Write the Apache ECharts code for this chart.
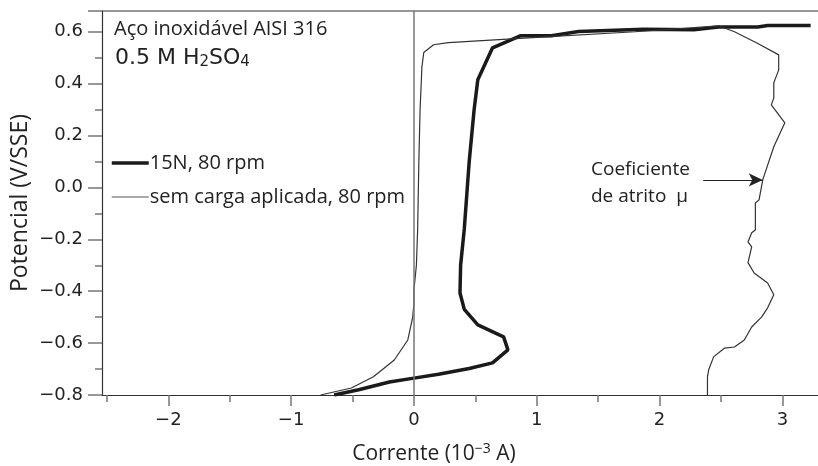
<!DOCTYPE html>
<html>
<head>
<meta charset="utf-8">
<script src="https://cdn.jsdelivr.net/npm/echarts@6/dist/echarts.min.js"></script>
<style>
  html, body { margin: 0; padding: 0; background: #fff; }
  #chart { width: 818px; height: 466px; }
</style>
</head>
<body>
<div id="chart"></div>
<script>
// curva com carga 15N, 80 rpm  [corrente (10^-3 A), potencial (V/SSE)]
var carga15N = [
  [-0.65, -0.8], [-0.45, -0.78], [-0.2, -0.75], [0, -0.735], [0.2, -0.72], [0.45, -0.698],
  [0.64, -0.676], [0.765, -0.626], [0.73, -0.576], [0.52, -0.53], [0.41, -0.47], [0.375, -0.407],
  [0.38, -0.3], [0.41, -0.16], [0.45, 0.1], [0.49, 0.3], [0.52, 0.415], [0.64, 0.538],
  [0.87, 0.585], [1.12, 0.585], [1.34, 0.601], [1.87, 0.61], [2.28, 0.608], [2.48, 0.618],
  [2.8, 0.618], [2.88, 0.624], [3.23, 0.624]
];
// sem carga aplicada, 80 rpm
var semCarga = [
  [-0.76, -0.8], [-0.51, -0.773], [-0.33, -0.73], [-0.16, -0.665], [-0.05, -0.588],
  [-0.01, -0.5], [0.0, -0.446], [0.0, -0.395], [0.02, -0.3], [0.03, -0.164], [0.04, 0.1],
  [0.05, 0.3], [0.065, 0.465], [0.08, 0.52], [0.16, 0.55], [0.28, 0.558], [1.0, 0.578],
  [1.8, 0.6], [2.48, 0.623]
];
// coeficiente de atrito
var atrito = [
  [2.48, 0.623], [2.61, 0.6], [2.8, 0.555], [2.97, 0.511], [2.97, 0.453], [2.93, 0.403],
  [2.93, 0.345], [2.91, 0.318], [3.02, 0.249], [2.93, 0.157], [2.84, 0.029], [2.81, -0.048],
  [2.78, -0.06], [2.78, -0.164], [2.75, -0.175], [2.72, -0.21], [2.75, -0.229], [2.72, -0.29],
  [2.77, -0.33], [2.88, -0.368], [2.93, -0.414], [2.88, -0.464], [2.83, -0.5], [2.75, -0.538],
  [2.69, -0.588], [2.61, -0.615], [2.53, -0.619], [2.44, -0.653], [2.4, -0.703], [2.39, -0.73],
  [2.39, -0.8]
];
// seta que aponta para a curva do atrito
var seta = [[2.355, 0.029], [2.84, 0.029]];

// marcas dos eixos
var xTicks = [-2, -1, 0, 1, 2, 3];
var xMinorTicks = [-2.5, -1.5, -0.5, 0.5, 1.5, 2.5];
var xMin = -2.54, xMax = 3.29;
var yMin = -0.8, yMax = 0.68;

var menos = function (s) { return String(s).replace('-', '\u2212'); };
var tickFont = { fontFamily: 'DejaVu Sans', fontSize: 18, color: '#222' };
var textoFont = 'Open Sans';

var chart = echarts.init(document.getElementById('chart'));
var option = {
  animation: false,
  backgroundColor: '#fff',
  grid: { left: 102, right: 0, top: 11, bottom: 71, outerBoundsMode: 'none', containLabel: false },
  title: [
    { text: 'Aço inoxidável AISI 316', left: 109, top: 14,
      textStyle: { fontFamily: textoFont, fontSize: 20, fontWeight: 'normal', color: '#222' } },
    { text: '0.5 M H{s|2}SO{s|4}', left: 110, top: 41,
      textStyle: { fontFamily: 'DejaVu Sans', fontSize: 22, fontWeight: 'normal', color: '#222',
        rich: { s: { fontFamily: 'DejaVu Sans', fontSize: 15, color: '#222', verticalAlign: 'bottom', padding: [9, 0, 0, 0] } } } },
    { text: 'Coeficiente\nde atrito  μ', left: 586, top: 151,
      textStyle: { fontFamily: textoFont, fontSize: 19, fontWeight: 'normal', color: '#222', lineHeight: 27 } }
  ],
  legend: {
    orient: 'vertical', left: 105, top: 148, itemWidth: 37, itemHeight: 10, itemGap: 14,
    itemStyle: { opacity: 0 },
    data: [
      { name: '15N, 80 rpm', lineStyle: { width: 3.5, color: '#1a1a1a' } },
      { name: 'sem carga aplicada, 80 rpm', lineStyle: { width: 1.2, color: '#555' } }
    ],
    textStyle: { fontFamily: textoFont, fontSize: 20, color: '#222', padding: [0, 0, 0, -4] }
  },
  xAxis: [{
    type: 'value', min: xMin, max: xMax, position: 'bottom',
    name: 'Corrente (10{p|\u22123} A)', nameLocation: 'middle', nameGap: 47,
    nameTextStyle: { fontFamily: textoFont, fontSize: 21, color: '#222', padding: [0, 52, 0, 0],
      rich: { p: { fontFamily: textoFont, fontSize: 14, color: '#222', verticalAlign: 'top', padding: [0, 0, 10, 0] } } },
    axisLine: { onZero: false, lineStyle: { color: '#333', width: 1.2 } },
    axisTick: { length: 11, customValues: xTicks, lineStyle: { color: '#777', width: 1.5 } },
    splitLine: { show: false },
    axisLabel: Object.assign({ margin: 16, customValues: xTicks, formatter: function (v) {
      return menos(Math.round(v)); } }, tickFont)
  }, {
    type: 'value', min: xMin, max: xMax, position: 'bottom',
    axisLine: { show: false, onZero: false },
    axisTick: { length: 7, customValues: xMinorTicks, lineStyle: { color: '#777', width: 1.5 } },
    axisLabel: { show: false },
    splitLine: { show: false }
  }],
  yAxis: {
    type: 'value', min: yMin, max: yMax, interval: 0.2,
    name: 'Potencial (V/SSE)', nameLocation: 'middle', nameGap: 70, nameMoveOverlap: false,
    nameTextStyle: { fontFamily: textoFont, fontSize: 23, color: '#222' },
    axisLine: { onZero: false, lineStyle: { color: '#333', width: 1.2 } },
    axisTick: { length: 14, lineStyle: { color: '#777', width: 1.5 } },
    minorTick: { show: true, splitNumber: 2, length: 7, lineStyle: { color: '#777', width: 1.5 } },
    splitLine: { show: false },
    axisLabel: Object.assign({ margin: 19, formatter: function (v) {
      return Math.abs(v * 5 - Math.round(v * 5)) < 1e-6 ? menos(v.toFixed(1)) : ''; } }, tickFont)
  },
  graphic: [
    // borda superior do gráfico
    { type: 'line', shape: { x1: 102, y1: 11, x2: 818, y2: 11 }, style: { stroke: '#333', lineWidth: 1.2 } }
  ],
  series: [
    {
      name: '15N, 80 rpm', type: 'line', data: carga15N, showSymbol: false, symbol: 'none',
      lineStyle: { color: '#1a1a1a', width: 3.5 }, itemStyle: { color: '#1a1a1a' },
      markLine: {
        silent: true, symbol: 'none', label: { show: false },
        lineStyle: { color: '#777', width: 1.5, type: 'solid' },
        data: [{ xAxis: 0 }]
      }
    },
    {
      name: 'sem carga aplicada, 80 rpm', type: 'line', data: semCarga, showSymbol: false, symbol: 'none',
      lineStyle: { color: '#333', width: 1.2 }, itemStyle: { color: '#333' }
    },
    {
      name: 'atrito', type: 'line', data: atrito, showSymbol: false, symbol: 'none',
      lineStyle: { color: '#333', width: 1.2 },
      markLine: {
        silent: true, symbol: ['none', 'arrow'], symbolSize: [10, 14], label: { show: false },
        lineStyle: { color: '#222', width: 1.2, type: 'solid' },
        data: [[{ coord: seta[0] }, { coord: seta[1] }]]
      }
    }
  ]
};
chart.setOption(option);
</script>
</body>
</html>
